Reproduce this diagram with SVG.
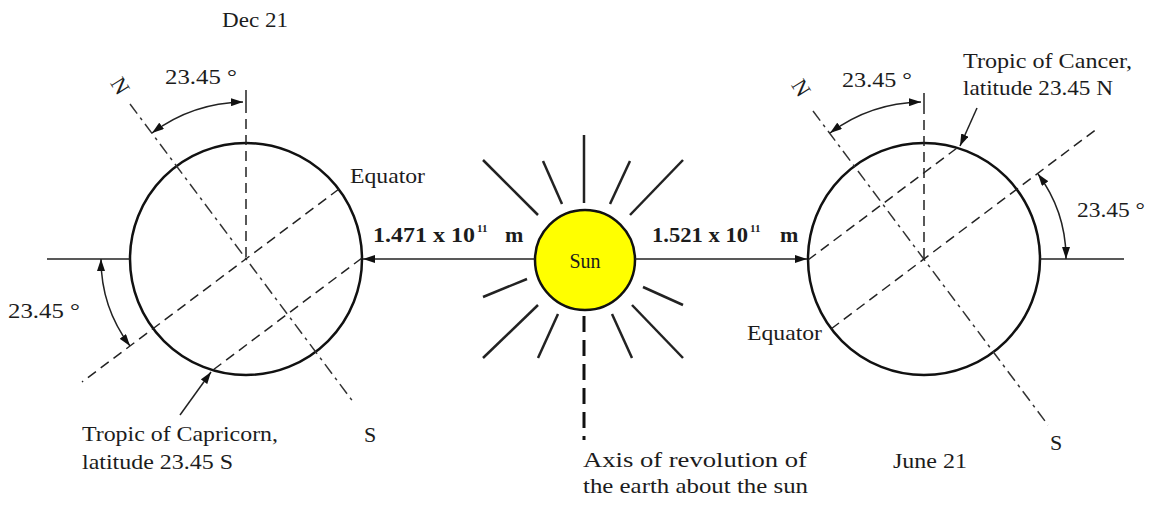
<svg xmlns="http://www.w3.org/2000/svg" width="1151" height="508" viewBox="0 0 1151 508">
<defs>
<marker id="ah" viewBox="0 0 12 8" refX="12" refY="4" markerWidth="12" markerHeight="8" markerUnits="userSpaceOnUse" orient="auto-start-reverse">
<path d="M0,0 L12,4 L0,8 z" fill="#111"/>
</marker>
<style>
.t{font-family:"Liberation Serif","Times New Roman",serif;font-size:22px;fill:#1c1c1c}
.b{font-weight:bold}
.ln{stroke:#222;stroke-width:1.5;fill:none}
.dash{stroke:#222;stroke-width:1.5;fill:none;stroke-dasharray:10 6}
.axis{stroke:#333;stroke-width:1.5;fill:none;stroke-dasharray:12 5 3 5}
.earth{fill:#fff;stroke:#111;stroke-width:2.5}
.ray{stroke:#222;stroke-width:2.5}
.arr{marker-end:url(#ah)}
.arr2{marker-start:url(#ah);marker-end:url(#ah)}
</style>
</defs>
<rect width="1151" height="508" fill="#fff"/>

<g id="earth-dec21">
<circle class="earth" cx="246" cy="259" r="116"/>
<line class="ln" x1="47" y1="259" x2="130" y2="259"/>
<line class="ln" x1="246" y1="90" x2="246" y2="103"/>
<line class="dash" x1="246" y1="103" x2="246" y2="259"/>
<line class="axis" x1="130" y1="104" x2="354" y2="403"/>
<line class="dash" x1="339" y1="189" x2="82" y2="382"/>
<line class="dash" x1="362" y1="258" x2="213" y2="370"/>
<path class="ln arr2" d="M152,133 A157,157 0 0 1 243,102"/>
<path class="ln arr2" d="M101,259 A145,145 0 0 0 130,346"/>
<text class="t" x="222" y="27" textLength="66" lengthAdjust="spacingAndGlyphs">Dec 21</text>
<text class="t" x="165" y="84" textLength="72" lengthAdjust="spacingAndGlyphs">23.45 °</text>
<text class="t" x="350" y="183" textLength="75" lengthAdjust="spacingAndGlyphs">Equator</text>
<text class="t" x="8" y="318" textLength="72" lengthAdjust="spacingAndGlyphs">23.45 °</text>
<text class="t" x="82" y="441" textLength="196" lengthAdjust="spacingAndGlyphs">Tropic of Capricorn,</text>
<text class="t" x="82" y="469" textLength="151" lengthAdjust="spacingAndGlyphs">latitude 23.45 S</text>
<text class="t" x="0" y="0" text-anchor="middle" transform="translate(120,86) rotate(58) translate(0,7)">N</text>
<text class="t" x="364" y="442">S</text>
</g>

<g id="sun">
<line class="ray" x1="584" y1="135" x2="584" y2="203"/>
<line class="ray" x1="483" y1="160" x2="538" y2="215"/>
<line class="ray" x1="543" y1="161" x2="562" y2="204"/>
<line class="ray" x1="630" y1="161" x2="610" y2="204"/>
<line class="ray" x1="683" y1="160" x2="630" y2="215"/>
<line class="ray" x1="483" y1="297" x2="527" y2="279"/>
<line class="ray" x1="643" y1="287" x2="683" y2="305"/>
<line class="ray" x1="538" y1="305" x2="483" y2="358"/>
<line class="ray" x1="558" y1="314" x2="538" y2="358"/>
<line class="ray" x1="612" y1="314" x2="632" y2="358"/>
<line class="ray" x1="632" y1="305" x2="683" y2="358"/>
<line x1="584" y1="316" x2="584" y2="440" stroke="#111" stroke-width="3" stroke-dasharray="16 8"/>
<circle cx="585" cy="260" r="50" fill="#ffff00" stroke="#111" stroke-width="2.5"/>
<text class="t" x="585" y="268" text-anchor="middle" style="font-size:20px">Sun</text>
<text class="t" x="583" y="467" textLength="224" lengthAdjust="spacingAndGlyphs">Axis of revolution of</text>
<text class="t" x="583" y="493" textLength="225" lengthAdjust="spacingAndGlyphs">the earth about the sun</text>
</g>

<g id="earth-june21">
<circle class="earth" cx="924" cy="259" r="116"/>
<line class="ln" x1="1040" y1="259" x2="1124" y2="259"/>
<line class="ln" x1="924" y1="93" x2="924" y2="104"/>
<line class="dash" x1="924" y1="104" x2="924" y2="259"/>
<line class="axis" x1="813" y1="111" x2="1048" y2="425"/>
<line class="dash" x1="831" y1="329" x2="1098" y2="128"/>
<line class="dash" x1="808" y1="260" x2="957" y2="148"/>
<path class="ln arr2" d="M830,133 A157,157 0 0 1 921,102"/>
<path class="ln arr2" d="M1038,174 A142,142 0 0 1 1066,259"/>
<text class="t" x="842" y="87" textLength="70" lengthAdjust="spacingAndGlyphs">23.45 °</text>
<text class="t" x="963" y="68" textLength="169" lengthAdjust="spacingAndGlyphs">Tropic of Cancer,</text>
<text class="t" x="963" y="95" textLength="150" lengthAdjust="spacingAndGlyphs">latitude 23.45 N</text>
<text class="t" x="1077" y="217" textLength="68" lengthAdjust="spacingAndGlyphs">23.45 °</text>
<text class="t" x="747" y="340" textLength="75" lengthAdjust="spacingAndGlyphs">Equator</text>
<text class="t" x="893" y="468" textLength="74" lengthAdjust="spacingAndGlyphs">June 21</text>
<text class="t" x="0" y="0" text-anchor="middle" transform="translate(801,88) rotate(58) translate(0,7)">N</text>
<text class="t" x="1050" y="450">S</text>
</g>

<g id="connectors">
<line class="ln arr" x1="535" y1="259" x2="363" y2="259"/>
<line class="ln arr" x1="635" y1="259" x2="807" y2="259"/>
<line class="ln arr" x1="180" y1="415" x2="211" y2="372"/>
<line class="ln arr" x1="977" y1="108" x2="960" y2="146"/>
</g>

<g id="distance-labels">
<text class="t b" x="373" y="242"><tspan textLength="102" lengthAdjust="spacingAndGlyphs">1.471 x 10</tspan><tspan x="477" y="232" style="font-size:11px">11</tspan><tspan x="505" y="242">m</tspan></text>
<text class="t b" x="652" y="242"><tspan textLength="96" lengthAdjust="spacingAndGlyphs">1.521 x 10</tspan><tspan x="750" y="232" style="font-size:11px">11</tspan><tspan x="780" y="242">m</tspan></text>
</g>
</svg>
